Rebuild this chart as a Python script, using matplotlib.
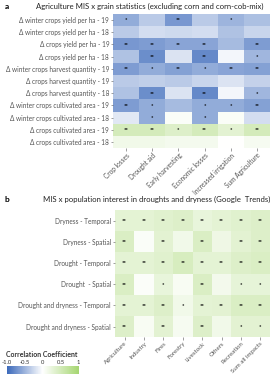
import numpy as np
import matplotlib
matplotlib.use("Agg")
import matplotlib.pyplot as plt
from matplotlib.colors import LinearSegmentedColormap

plt.rcParams['font.family'] = ['Lato', 'DejaVu Sans']

# panel a: agriculture MIS x grain statistics
rows_a = ["Δ winter crops yield per ha - 19", "Δ winter crops yield per ha - 18",
          "Δ crops yield per ha - 19", "Δ crops yield per ha - 18",
          "Δ winter crops harvest quantity - 19", "Δ crops harvest quantity - 19",
          "Δ crops harvest quantity - 18", "Δ winter crops cultivated area - 19",
          "Δ winter crops cultivated area - 18", "Δ crops cultivated area - 19",
          "Δ crops cultivated area - 18"]
cols_a = ["Crop losses", "Drought aid", "Early harvesting", "Economic losses",
          "Increased irrigation", "Sum Agriculture"]
vals_a = [
    [-0.55, -0.35, -0.68, -0.35, -0.50, -0.42],
    [-0.35, -0.22, -0.25, -0.22, -0.40, -0.28],
    [-0.68, -0.65, -0.60, -0.60, -0.45, -0.65],
    [-0.40, -0.75, -0.18, -0.78, -0.06, -0.48],
    [-0.65, -0.55, -0.62, -0.55, -0.60, -0.62],
    [-0.35, -0.32, -0.35, -0.28, -0.18, -0.30],
    [-0.40, -0.75, -0.18, -0.78, -0.06, -0.48],
    [-0.65, -0.55, -0.45, -0.55, -0.55, -0.62],
    [-0.15, -0.55, 0.05, -0.55, 0.06, -0.22],
    [0.48, 0.48, 0.38, 0.48, 0.32, 0.48],
    [0.15, 0.15, 0.12, 0.12, 0.0, 0.10],
]
sig_a = [
    ["*", "", "**", "", "*", ""],
    ["", "", "", "", "", ""],
    ["**", "**", "**", "**", "", "**"],
    ["", "**", "", "**", "", "*"],
    ["**", "*", "**", "*", "**", "**"],
    ["", "", "", "", "", ""],
    ["", "**", "", "**", "", "*"],
    ["**", "*", "", "*", "*", "**"],
    ["", "*", "", "*", "", ""],
    ["**", "**", "*", "**", "*", "**"],
    ["", "", "", "", "", ""],
]

# panel b: MIS x google trends
rows_b = ["Dryness - Temporal", "Dryness - Spatial", "Drought - Temporal",
          "Drought  - Spatial", "Drought and dryness - Temporal",
          "Drought and dryness - Spatial"]
cols_b = ["Agriculture", "Industry", "Fires", "Forestry", "Livestock",
          "Others", "Recreation", "Sum all impacts"]
vals_b = [
    [0.30, 0.30, 0.35, 0.38, 0.25, 0.30, 0.35, 0.38],
    [0.42, 0.05, 0.32, 0.15, 0.42, 0.18, 0.32, 0.38],
    [0.30, 0.30, 0.35, 0.45, 0.30, 0.30, 0.38, 0.42],
    [0.42, 0.04, 0.25, 0.08, 0.42, 0.14, 0.28, 0.28],
    [0.30, 0.30, 0.38, 0.15, 0.30, 0.32, 0.42, 0.42],
    [0.38, 0.08, 0.32, 0.10, 0.38, 0.15, 0.32, 0.32],
]
sig_b = [
    ["**", "**", "**", "**", "**", "**", "**", "**"],
    ["**", "", "**", "", "**", "", "**", "**"],
    ["**", "**", "**", "**", "**", "**", "**", "**"],
    ["**", "", "*", "", "**", "", "*", "*"],
    ["**", "**", "**", "*", "**", "**", "**", "**"],
    ["**", "", "**", "", "**", "", "*", "*"],
]

cmap = LinearSegmentedColormap.from_list("corr", ["#3A68BA", "#ffffff", "#A6D672"])

fig = plt.figure(figsize=(2.75, 3.75), dpi=100)


def heat(ax, vals, sig, rows, cols, xsize):
    v = np.array(vals)
    m = ax.pcolormesh(v, cmap=cmap, vmin=-1, vmax=1, edgecolors='none')
    for i in range(v.shape[0]):
        for j in range(v.shape[1]):
            if sig[i][j]:
                ax.text(j + 0.5, i + 0.5, sig[i][j], ha='center', va='center',
                        fontsize=4.2, color='black', fontweight='bold')
    ax.set_xlim(0, v.shape[1])
    ax.set_ylim(v.shape[0], 0)
    ax.set_xticks(np.arange(v.shape[1]) + 0.5)
    ax.set_xticklabels(cols, rotation=45, ha='right', rotation_mode='anchor')
    ax.set_yticks(np.arange(v.shape[0]) + 0.5)
    ax.set_yticklabels(rows)
    ax.tick_params(labelsize=4.7, length=1.8, width=0.4, pad=1, colors='#555555')
    ax.tick_params(axis='x', labelsize=xsize)
    for s in ax.spines.values():
        s.set_visible(False)
    return m


ax_a = fig.add_axes([0.411, 0.605, 0.571, 0.358])
m = heat(ax_a, vals_a, sig_a, rows_a, cols_a, 4.7)
ax_b = fig.add_axes([0.418, 0.101, 0.564, 0.339])
heat(ax_b, vals_b, sig_b, rows_b, cols_b, 4.4)

fig.text(0.018, 0.983, "a", fontsize=6, fontweight='bold', va='center')
fig.text(0.545, 0.983, "Agriculture MIS x grain statistics (excluding corn and corn-cob-mix)",
         fontsize=5.6, ha='center', va='center', color='#222222')
fig.text(0.018, 0.467, "b", fontsize=6, fontweight='bold', va='center')
fig.text(0.57, 0.467, "MIS x population interest in droughts and dryness (Google  Trends)",
         fontsize=5.6, ha='center', va='center', color='#222222')

cax = fig.add_axes([0.024, 0.004, 0.262, 0.021])
cb = fig.colorbar(m, cax=cax, orientation='horizontal', ticks=[-1, -0.5, 0, 0.5, 1])
cb.ax.set_xticklabels(["-1.0", "-0.5", "0", "0.5", "1"])
cb.ax.xaxis.set_ticks_position('top')
cb.ax.tick_params(labelsize=4.2, length=0, pad=0.8, colors='#333333')
cb.outline.set_visible(False)
fig.text(0.152, 0.055, "Correlation Coefficient", fontsize=5, fontweight='bold',
         ha='center', va='center', color='#333333')

fig.savefig("out.png", dpi=100)
